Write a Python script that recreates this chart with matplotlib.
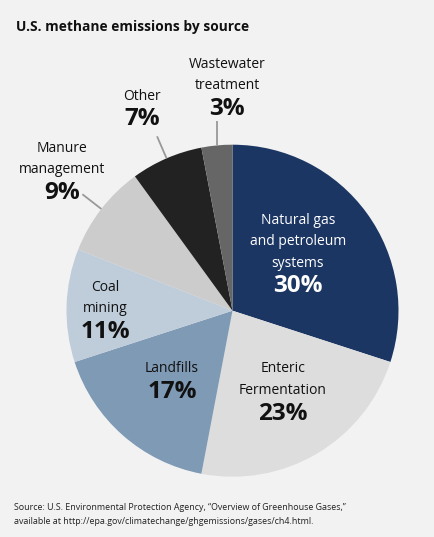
import matplotlib
matplotlib.use("Agg")
import matplotlib.pyplot as plt
import numpy as np

categories = ["Natural gas\nand petroleum\nsystems", "Enteric\nFermentation", "Landfills",
              "Coal\nmining", "Manure\nmanagement", "Other", "Wastewater\ntreatment"]
values = [30, 23, 17, 11, 9, 7, 3]
colors = ["#1c3664", "#dddddd", "#7f9ab5", "#bfcddb", "#cccccc", "#222222", "#666666"]
text_colors = ["white", "#111111", "#111111", "#111111", "#111111", "#111111", "#111111"]

W, H = 435, 537
fig = plt.figure(figsize=(W / 100, H / 100), dpi=100, facecolor="#f2f2f2")
ax = fig.add_axes([0, 0, 1, 1])

cx, cy, R = 232.5, H - 310.7, 166
wedges, _ = ax.pie(values, colors=colors, startangle=90, counterclock=False,
                   center=(cx, cy), radius=R, frame=True,
                   wedgeprops=dict(linewidth=0))
ax.set_xlim(0, W)
ax.set_ylim(0, H)
ax.axis("off")

label_font = "Open Sans"
# label positions (pixel coordinates from top-left): (x, y of first line)
pos = [(298, 220), (283, 369), (172, 369), (105, 287), (62, 148), (142, 96), (227, 64)]
line_h = 21.5

for i, (lab, v) in enumerate(zip(categories, values)):
    x, y0 = pos[i]
    lines = lab.split("\n")
    for j, ln in enumerate(lines):
        ax.text(x, H - (y0 + j * line_h), ln, ha="center", va="center",
                fontsize=10, family=label_font, color=text_colors[i])
    yp = y0 + len(lines) * line_h + 1.5
    ax.text(x, H - yp, f"{v}%", ha="center", va="center", fontsize=17.5,
            fontweight="bold", family=label_font, color=text_colors[i])

# leader lines for small outer-labelled slices
for i in (4, 5, 6):
    w = wedges[i]
    ang = np.deg2rad((w.theta1 + w.theta2) / 2)
    x1, y1 = cx + R * np.cos(ang), cy + R * np.sin(ang)
    L = 24
    if i == 6:
        x2, y2 = x1, y1 + L
    else:
        x2, y2 = x1 + L * np.cos(ang), y1 + L * np.sin(ang)
    ax.plot([x1, x2], [y1, y2], color="#999999", lw=1.3, solid_capstyle="butt")

fig.text(16 / W, 1 - 27 / H, "U.S. methane emissions by source", ha="left", va="center",
         fontsize=9.9, fontweight="bold", family=label_font, color="#111111")
fig.text(14 / W, 1 - 507 / H,
         "Source: U.S. Environmental Protection Agency, \u201cOverview of Greenhouse Gases,\u201d",
         ha="left", va="center", fontsize=6.4, family=label_font, color="#222222")
fig.text(14 / W, 1 - 521 / H,
         "available at http://epa.gov/climatechange/ghgemissions/gases/ch4.html.",
         ha="left", va="center", fontsize=6.4, family=label_font, color="#222222")

fig.savefig("out.png", dpi=100, facecolor=fig.get_facecolor())
